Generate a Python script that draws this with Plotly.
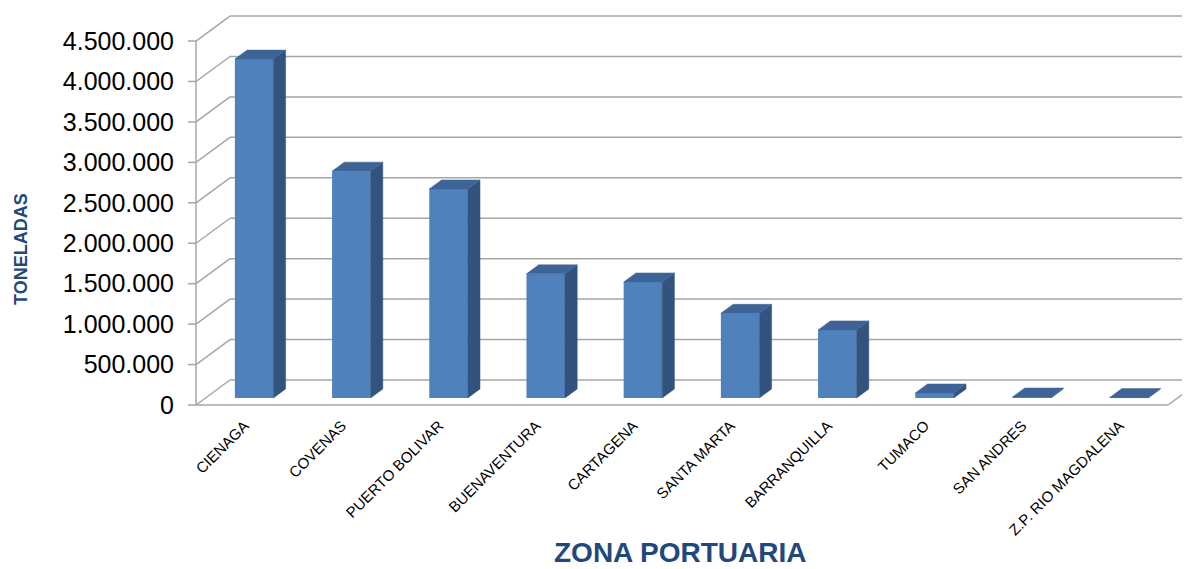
import plotly.graph_objects as go

# ---------------- data ----------------
categories = ["CIENAGA", "COVENAS", "PUERTO BOLIVAR", "BUENAVENTURA", "CARTAGENA",
              "SANTA MARTA", "BARRANQUILLA", "TUMACO", "SAN ANDRES", "Z.P. RIO MAGDALENA"]
toneladas = [4190000, 2805000, 2585000, 1535000, 1435000,
             1047000, 842000, 62000, 12000, 5000]
y_ticks = [0, 500000, 1000000, 1500000, 2000000, 2500000, 3000000, 3500000, 4000000, 4500000]

# ---------------- geometry (screen pixels -> axis units) ----------------
OFF = 8                                      # default page body margin
SCR_W, SCR_H = 1190, 569
W, H = SCR_W - OFF, SCR_H - OFF
PL, PR, PT, PB = 186, 1190, 10, 412          # plot area, screen pixels
X0PX = 196                                   # pixel of x=-0.5 on the front plane
PX_PER_CAT = 97.2
Y0PX = 405                                   # pixel of value 0 on the front plane
PX_PER_VAL = 40.44 / 500000

x_lo = -0.5 - (X0PX - PL) / PX_PER_CAT
x_hi = -0.5 + (PR - X0PX) / PX_PER_CAT
y_lo = -(PB - Y0PX) / PX_PER_VAL
y_hi = (Y0PX - PT) / PX_PER_VAL

SX = 34 / PX_PER_CAT        # full depth offset (x units)
SY = 25 / PX_PER_VAL        # full depth offset (value units)
DF, DB = 0.28, 0.64         # bar front / back depth fraction
HW = 0.198                  # bar half-width

FRONT = "#4F81BD"
TOP = "#3E6497"
SIDE = "#33537F"
GRID = "#A6A6A6"
TITLE_C = "#1F497D"

n = len(categories)
idx = list(range(n))

fig = go.Figure()

# front faces
fig.add_trace(go.Bar(
    x=[i + DF * SX for i in idx], y=toneladas, base=[DF * SY] * n,
    width=2 * HW, marker=dict(color=FRONT, line=dict(width=0)),
    hoverinfo="skip", showlegend=False))

# side faces
sx, sy = [], []
for i, v in zip(idx, toneladas):
    xr_f = i + HW + DF * SX
    xr_b = i + HW + DB * SX
    sx += [xr_f, xr_f, xr_b, xr_b, xr_f, None]
    sy += [DF * SY, v + DF * SY, v + DB * SY, DB * SY, DF * SY, None]
fig.add_trace(go.Scatter(x=sx, y=sy, mode="lines", fill="toself", fillcolor=SIDE,
                         line=dict(width=0.5, color=SIDE), hoverinfo="skip", showlegend=False))

# top faces
tx, ty = [], []
for i, v in zip(idx, toneladas):
    tx += [i - HW + DF * SX, i + HW + DF * SX, i + HW + DB * SX, i - HW + DB * SX, i - HW + DF * SX, None]
    ty += [v + DF * SY, v + DF * SY, v + DB * SY, v + DB * SY, v + DF * SY, None]
fig.add_trace(go.Scatter(x=tx, y=ty, mode="lines", fill="toself", fillcolor=TOP,
                         line=dict(width=0.5, color=TOP), hoverinfo="skip", showlegend=False))

# walls / gridlines as shapes below traces
shapes = []
def seg(x0, y0, x1, y1):
    shapes.append(dict(type="line", xref="x", yref="y", x0=x0, y0=y0, x1=x1, y1=y1,
                       line=dict(color=GRID, width=1.5), layer="below"))

for v in y_ticks:
    seg(-0.5, v, -0.5 + SX, v + SY)
    seg(-0.5 + SX, v + SY, x_hi + 1, v + SY)
    seg(-0.5 - 8 / PX_PER_CAT, v, -0.5, v)
# y axis line
seg(-0.5, 0, -0.5, y_ticks[-1])
# floor front edge and right edge
seg(-0.5, 0, n - 0.5, 0)
seg(n - 0.5, 0, n - 0.5 + SX, SY)

fig.update_layout(
    width=W, height=H,
    margin=dict(l=PL - OFF, r=SCR_W - PR, t=PT - OFF, b=SCR_H - PB, pad=0),
    paper_bgcolor="white", plot_bgcolor="white",
    separators=",.",
    shapes=shapes,
    showlegend=False,
    font=dict(family="Arial, Liberation Sans, sans-serif", color="black"),
    xaxis=dict(range=[x_lo, x_hi], tickmode="array", tickvals=idx, ticktext=categories,
               tickangle=-45, tickfont=dict(size=15, color="black"),
               showgrid=False, zeroline=False, showline=False, ticks="",
               ticklabelstandoff=1, fixedrange=True),
    yaxis=dict(range=[y_lo, y_hi], tickmode="array", tickvals=y_ticks, tickformat=",d",
               tickfont=dict(size=25, color="black"),
               showgrid=False, zeroline=False, showline=False, ticks="",
               ticklabelstandoff=11, fixedrange=True),
    annotations=[
        dict(text="<b>ZONA PORTUARIA</b>", xref="paper", yref="paper",
             x=(680 - PL) / (PR - PL), y=(PB - 552) / (PB - PT),
             xanchor="center", yanchor="middle", showarrow=False,
             font=dict(size=28, color=TITLE_C)),
        dict(text="<b>TONELADAS</b>", xref="paper", yref="paper",
             x=(21 - PL) / (PR - PL), y=(PB - 249) / (PB - PT),
             xanchor="center", yanchor="middle", showarrow=False, textangle=-90,
             font=dict(size=18, color=TITLE_C)),
    ],
)

fig.write_html("out.html")
